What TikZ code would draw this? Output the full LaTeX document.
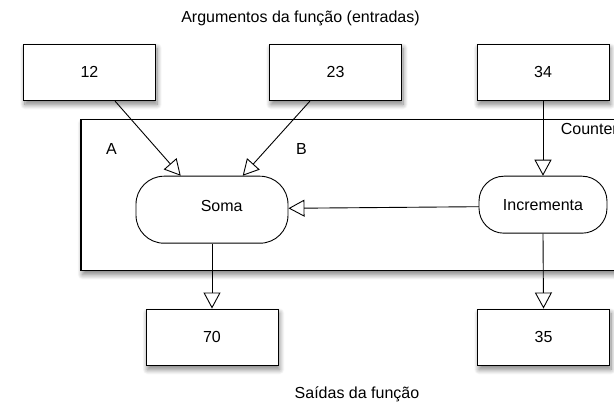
\documentclass[tikz,border=0pt]{standalone}
\usepackage{fontspec}
\setmainfont{Liberation Sans}
\usetikzlibrary{arrows.meta,shadows.blur}

\tikzset{
  softshadow/.style={blur shadow={shadow xshift=1.5pt, shadow yshift=-4pt,
                 shadow blur radius=5pt, shadow blur steps=10, shadow opacity=50}},
  valbox/.style={draw=black, line width=1pt, fill=white,
    minimum width=132pt, minimum height=56.5pt, inner sep=0pt, softshadow},
  pill/.style={draw=black, line width=0.9pt, fill=white,
    rounded corners=#1, inner sep=0pt},
  pill/.default=26pt,
  flow/.style={draw=black, line width=0.9pt,
    -{Triangle[open, length=16pt, width=17pt, line width=0.9pt]}},
  lbl/.style={inner sep=0pt, anchor=base},
}

\begin{document}
\begin{tikzpicture}[x=1pt, y=-1pt, font=\fontsize{16}{19}\selectfont]
\useasboundingbox (0,0) rectangle (614,403);

\begin{scope}
  \clip (0,0) rectangle (614,403);
  % module frame (runs past the right edge)
  \node[draw=black, line width=1.1pt, fill=white, inner sep=0pt,
        minimum width=570pt, minimum height=151.4pt, softshadow]
        (frame) at (366,195) {};
\end{scope}

% input values
\node[valbox] (b12) at (89.5,72.3) {12};
\node[valbox] (b23) at (335.5,72.3) {23};
\node[valbox] (b34) at (543,72.3) {34};

% output values
\node[valbox] (b70) at (212,337.3) {70};
\node[valbox] (b35) at (543.5,337.3) {35};

% operations
\node[pill=28pt, minimum width=152pt, minimum height=67pt] (soma) at (212,209.7) {};
\node[inner sep=0pt] (somatext) at (221.7,206) {Soma};
\node[pill=25pt, minimum width=128pt, minimum height=57pt] (inc) at (543,204.7) {Incrementa};

% data flow
\draw[flow] ([xshift=25.5pt]b12.south) -- ([xshift=-31.3pt]soma.north);
\draw[flow] ([xshift=-25.5pt]b23.south) -- ([xshift=30.7pt]soma.north);
\draw[flow] (b34.south) -- (inc.north);
\draw[flow] ([yshift=-2pt]inc.west) -- ([yshift=1.4pt]soma.east);
\draw[flow] (soma.south) -- (b70.north);
\draw[flow] (inc.south) -- (b35.north);

% captions
\node[lbl] (title) at (300.5,22.5) {Argumentos da função (entradas)};
\node[lbl] (outs) at (357,398.3) {Saídas da função};
\node[lbl, anchor=base west] (la) at (106,154.3) {A};
\node[lbl, anchor=base west] (lb) at (296,154.3) {B};
\node[lbl, anchor=base west] (counter) at (560.7,135) {Counter};
\end{tikzpicture}
\end{document}
